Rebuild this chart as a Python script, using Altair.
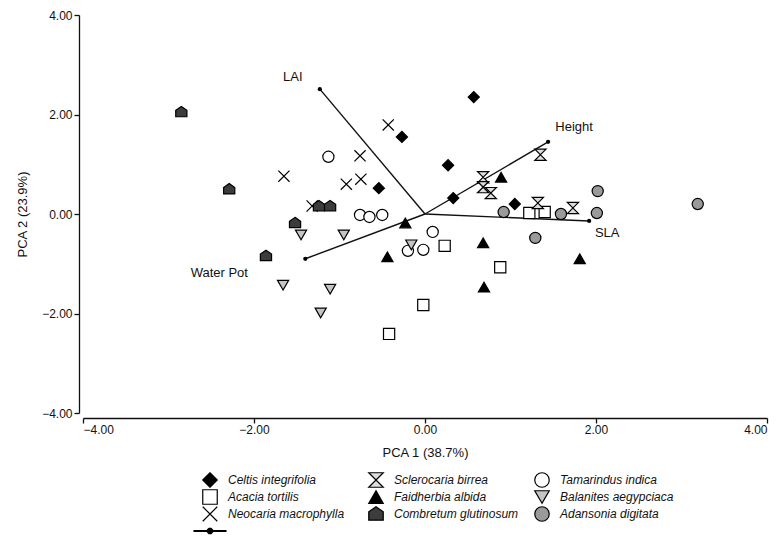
import altair as alt
import pandas as pd

FONT = "Liberation Sans"

# ---- data ----
celtis_x = [-0.27, -0.54, 0.27, 0.57, 0.33, 1.05]
celtis_y = [1.55, 0.52, 0.98, 2.35, 0.32, 0.20]

acacia_x = [0.23, 1.22, 1.40, 0.88, -0.02, -0.42]
acacia_y = [-0.64, 0.02, 0.04, -1.07, -1.83, -2.41]

neocaria_x = [-1.65, -0.43, -0.76, -0.92, -0.75, -1.32]
neocaria_y = [0.76, 1.79, 1.17, 0.60, 0.70, 0.16]

sclero_x = [1.35, 0.68, 0.68, 0.77, 1.32, 1.73]
sclero_y = [1.19, 0.74, 0.54, 0.42, 0.22, 0.12]

faid_x = [-0.23, -0.44, 0.89, 0.68, 1.81, 0.69]
faid_y = [-0.18, -0.86, 0.74, -0.58, -0.90, -1.47]

combr_x = [-2.85, -2.29, -1.24, -1.11, -1.52, -1.86]
combr_y = [2.05, 0.50, 0.16, 0.16, -0.18, -0.84]

tamar_x = [-1.13, -0.76, -0.65, -0.50, 0.09, -0.20, -0.02]
tamar_y = [1.15, -0.02, -0.06, -0.02, -0.36, -0.74, -0.72]

balan_x = [-1.45, -0.95, -0.16, -1.66, -1.11, -1.22]
balan_y = [-0.42, -0.42, -0.62, -1.43, -1.51, -1.99]

adans_x = [2.02, 2.01, 3.19, 0.92, 1.59, 1.29]
adans_y = [0.46, 0.02, 0.20, 0.04, 0.00, -0.48]

vec_names = ["LAI", "Height", "SLA", "Water Pot"]
vec_x = [-1.23, 1.44, 1.92, -1.40]
vec_y = [2.51, 1.45, -0.14, -0.90]
origin_x = [0.0, 0.0, 0.0, 0.0]
origin_y = [0.0, 0.0, 0.0, 0.0]

axis_ticks = [-4, -2, 0, 2, 4]

# legend order (row-major for a 3-column legend)
VEC_KEY = "vector"
order = [
    "Celtis integrifolia", "Sclerocaria birrea", "Tamarindus indica",
    "Acacia tortilis", "Faidherbia albida", "Balanites aegypciaca",
    "Neocaria macrophylla", "Combretum glutinosum", "Adansonia digitata",
    VEC_KEY,
]
shapes = [
    "diamond",
    "M-1,-1L1,-1L-1,1L1,1Z",
    "circle",
    "square",
    "triangle-up",
    "triangle-down",
    "M-1,-1L1,1M-1,1L1,-1",
    "M0,-1L1,-0.3L1,0.85L-1,0.85L-1,-0.3Z",
    "circle",
    "M-2.2,-0.06L2.2,-0.06L2.2,0.06L-2.2,0.06Z "
    "M-0.36,-0.15L-0.15,-0.36L0.15,-0.36L0.36,-0.15L0.36,0.15L0.15,0.36L-0.15,0.36L-0.36,0.15Z",
]
fills = [
    "#000000", "#dedede", "#ffffff",
    "#ffffff", "#000000", "#c4c4c4",
    "transparent", "#3c3c3c", "#9a9a9a",
    "#000000",
]

groups = [
    ("Celtis integrifolia", celtis_x, celtis_y),
    ("Acacia tortilis", acacia_x, acacia_y),
    ("Neocaria macrophylla", neocaria_x, neocaria_y),
    ("Sclerocaria birrea", sclero_x, sclero_y),
    ("Faidherbia albida", faid_x, faid_y),
    ("Combretum glutinosum", combr_x, combr_y),
    ("Tamarindus indica", tamar_x, tamar_y),
    ("Balanites aegypciaca", balan_x, balan_y),
    ("Adansonia digitata", adans_x, adans_y),
]
rows = []
for name, xs, ys in groups:
    for a, b in zip(xs, ys):
        rows.append({"species": name, "x": a, "y": b})
pts = pd.DataFrame(rows)

vec = pd.DataFrame({"name": vec_names, "x": vec_x, "y": vec_y,
                    "x0": origin_x, "y0": origin_y})

xscale = alt.Scale(domain=[-4, 4], nice=False, zero=False)
yscale = alt.Scale(domain=[-4, 4], nice=False, zero=False)

xaxis = alt.Axis(values=axis_ticks, format=".2f", offset=5, title="PCA 1 (38.7%)",
                 titlePadding=11, labelPadding=1, grid=False)
yaxis = alt.Axis(values=axis_ticks, format=".2f", offset=4, title="PCA 2 (23.9%)",
                 titlePadding=12, labelPadding=2, grid=False)

legend = alt.Legend(
    orient="none", legendX=110, legendY=457, columns=3, direction="horizontal", title=None,
    labelFont=FONT, labelFontSize=12, labelFontStyle="italic", labelColor="#111",
    symbolSize=210, symbolStrokeWidth=1.2, symbolOpacity=1, symbolOffset=9,
    labelOffset=10, rowPadding=1, columnPadding=6, gridAlign="all", clipHeight=16,
    labelExpr="datum.label == 'vector' ? '' : datum.label",
)

points = alt.Chart(pts).mark_point(size=125, strokeWidth=1.2, opacity=1, fillOpacity=1).encode(
    x=alt.X("x:Q", scale=xscale, axis=xaxis),
    y=alt.Y("y:Q", scale=yscale, axis=yaxis),
    shape=alt.Shape("species:N", scale=alt.Scale(domain=order, range=shapes), legend=legend),
    fill=alt.Fill("species:N", scale=alt.Scale(domain=order, range=fills), legend=legend),
    stroke=alt.Stroke("species:N", scale=alt.Scale(domain=order, range=["#000000"] * len(order)), legend=legend),
)

rules = alt.Chart(vec).mark_rule(color="#111", strokeWidth=1.4).encode(
    x=alt.X("x0:Q", scale=xscale), y=alt.Y("y0:Q", scale=yscale),
    x2="x:Q", y2="y:Q",
)
ends = alt.Chart(vec).mark_point(filled=True, size=18, color="#000", opacity=1).encode(
    x=alt.X("x:Q", scale=xscale), y=alt.Y("y:Q", scale=yscale),
)

offsets = {"LAI": (-27, -12), "Height": (26, -15), "SLA": (18, 12), "Water Pot": (-86, 14)}
texts = []
for nm in vec_names:
    dx, dy = offsets[nm]
    texts.append(
        alt.Chart(vec).transform_filter(alt.datum.name == nm).mark_text(
            font=FONT, fontSize=13, color="#111", dx=dx, dy=dy, align="center", baseline="middle"
        ).encode(x=alt.X("x:Q", scale=xscale), y=alt.Y("y:Q", scale=yscale), text="name:N")
    )

chart = alt.layer(rules, ends, points, *texts).properties(
    width=684, height=398,
    background="white",
    autosize=alt.AutoSizeParams(type="none"),
    padding={"left": 83, "top": 15, "right": 13, "bottom": 124},
).configure_view(stroke=None).configure_axis(
    grid=False, domainColor="#111", domainWidth=1.3, tickColor="#111", tickWidth=1.3, tickSize=5,
    labelFont=FONT, labelFontSize=12, labelColor="#111",
    titleFont=FONT, titleFontSize=13, titleFontWeight="normal", titleColor="#111",
)

chart.save("out.html", embed_options={"renderer": "svg", "actions": False})
